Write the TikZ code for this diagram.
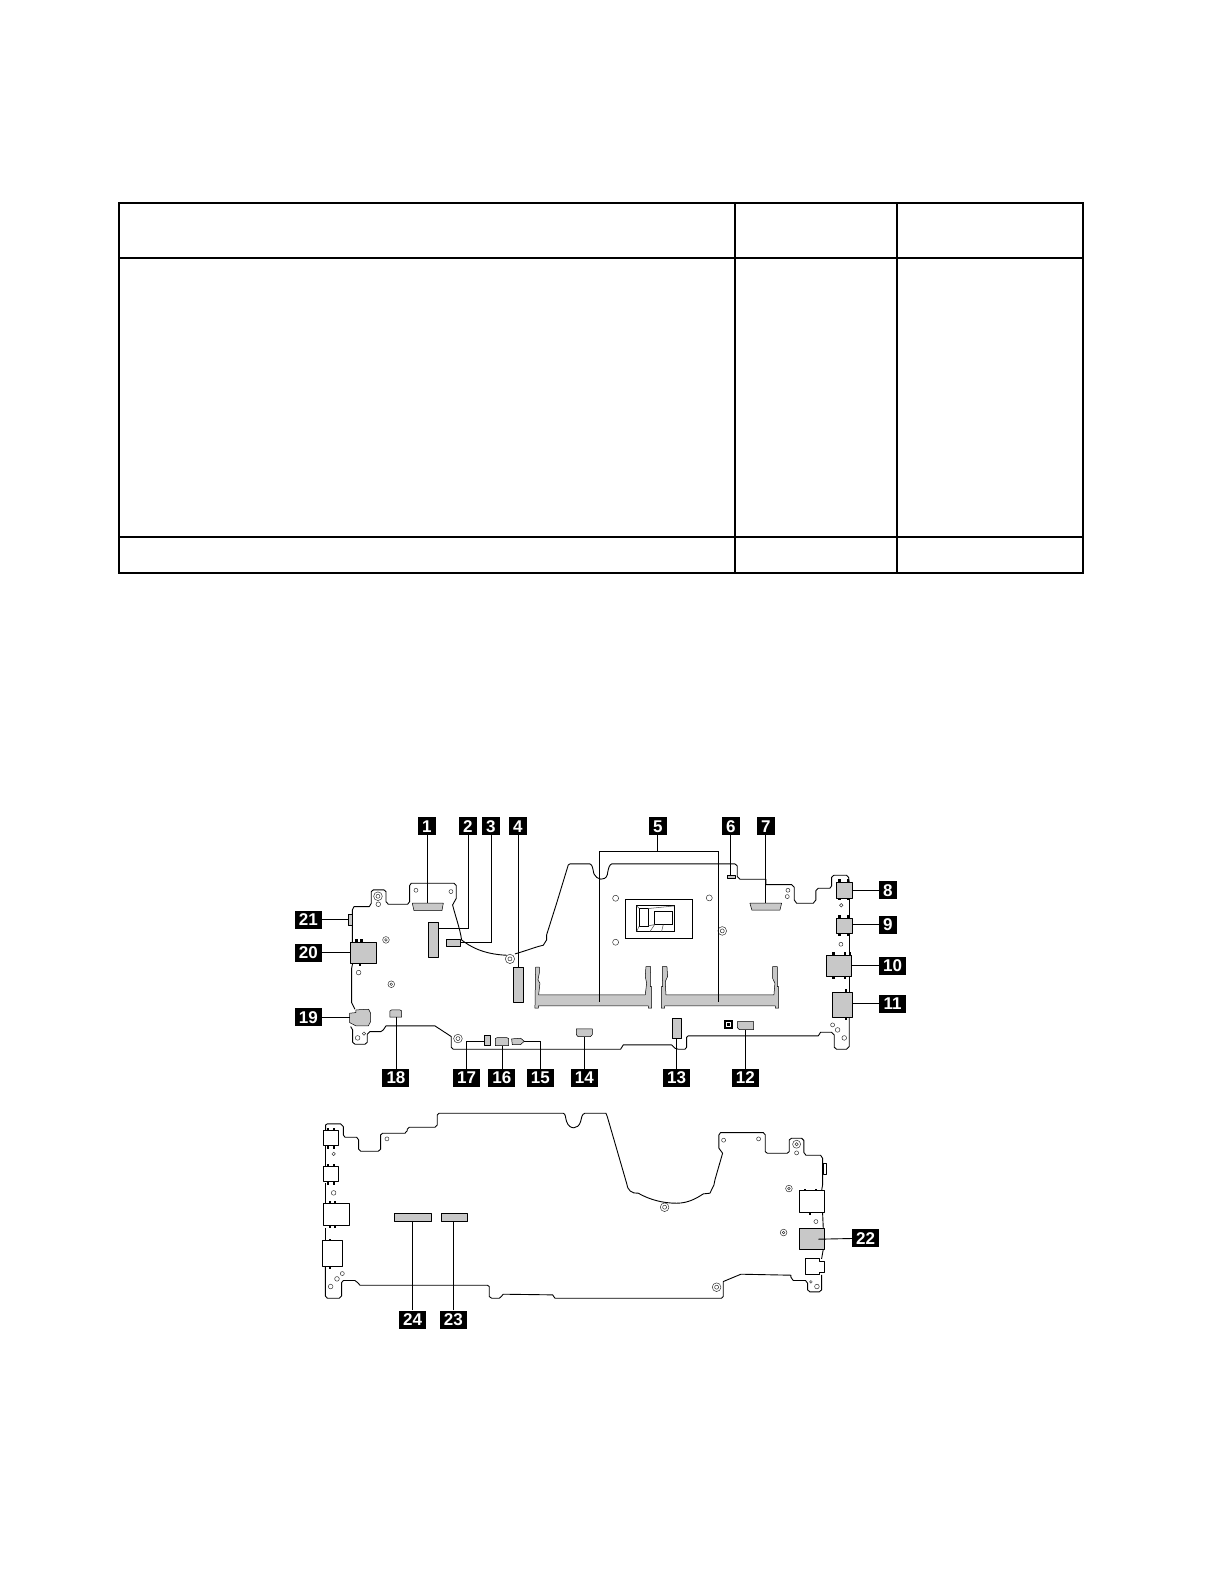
\documentclass[tikz,border=0pt]{standalone}
\usepackage{fontspec}
\setmainfont{Liberation Sans}
\usepackage{xcolor}
\usepackage{tikz}
\definecolor{partgray}{HTML}{C8C8C8}

\begin{document}
\begin{tikzpicture}[x=1pt,y=-1pt,
  table line/.style={line width=2pt},
  outline/.style={line width=0.9pt,line join=round},
  part/.style={draw,line width=0.5pt,fill=partgray,line join=round},
  plug/.style={draw,line width=0.9pt,fill=white,line join=round},
  hole/.style={draw,line width=0.5pt,black!80},
  peg/.style={fill=black},
  lead/.style={line width=0.9pt},
  callout/.style={fill=black,text=white,inner sep=0pt,minimum height=18pt,font=\fontsize{17}{17}\selectfont\bfseries},
  one/.style={callout,minimum width=18pt},
  two/.style={callout,minimum width=27pt}]
\useasboundingbox (0,0) rectangle (1224,1584);

% empty table
\draw[table line] (119,203) rectangle (1083,573);
\draw[table line] (119,258) -- (1083,258) (119,537) -- (1083,537);
\draw[table line] (735,203) -- (735,573) (897,203) -- (897,573);

% upper board
\begin{scope}[x=0.3333pt,y=-0.3333pt,shift={(840,2400)}]
\draw[outline] (217,427) -- (217,330) -- (222,320) -- (268,320) -- (274,310) -- (274,275) -- (280,270) -- (312,270) -- (318,275) -- (318,305) -- (325,313) -- (383,313) -- (389,305) -- (389,257) -- (394,250) -- (522,250) -- (529,257) -- (529,295) -- (518,315) .. controls (525,345) and (540,385) .. (545,420) .. controls (570,440) and (610,463) .. (680,466) (705,462) .. controls (740,452) and (770,440) .. (790,436) -- (800,420) -- (800,405) -- (830,310) -- (865,195) -- (870,192) -- (930,192) .. controls (938,195) and (938,205) .. (942,222) .. controls (950,240) and (975,245) .. (982,225) .. controls (985,205) and (988,195) .. (995,192) -- (1365,192) -- (1372,198) -- (1372,230) -- (1380,238) -- (1458,238) -- (1458,254) -- (1535,254) -- (1543,262) -- (1543,300) -- (1550,310) -- (1600,310) -- (1608,300) -- (1608,272) -- (1615,265) -- (1650,265) -- (1655,258) -- (1655,232) -- (1662,226) -- (1700,226) -- (1706,232) -- (1708,247);
\draw[outline] (1708,294) -- (1708,355) (1708,400) -- (1708,465) (1708,530) -- (1708,577);
\draw[outline] (1708,652) -- (1708,740) -- (1700,748) -- (1670,748) -- (1663,742) -- (1663,705) -- (1655,697) -- (1622,697) -- (1615,708) -- (1225,708) -- (1220,712) -- (1220,742) -- (1215,748) -- (1195,748) -- (1185,745) -- (1175,735) -- (1030,735) -- (1022,748) -- (520,748) -- (514,742) -- (514,710) -- (465,678) -- (318,678) -- (310,690) -- (303,695) -- (270,695) -- (262,703) -- (262,727) -- (255,733) -- (225,733) -- (218,727) -- (218,690) -- (212,680);
\draw[outline] (225,628) -- (215,608) -- (215,505) -- (218,491);

% gray parts
\draw[part] (397,310) -- (490,310) -- (486,332) -- (402,332) -- cycle;
\draw[part] (445,366) rectangle (476,472);
\draw[part] (499,418) rectangle (540,440);
\draw[part] (700,502) rectangle (731,607);
\draw[part] (767,502) -- (778,502) -- (778,520) -- (774,540) -- (780,550) -- (776,585) -- (1096,585) -- (1100,550) -- (1096,530) -- (1098,500) -- (1112,500) -- (1111,560) -- (1115,560) -- (1115,625) -- (1105,625) -- (1105,618) -- (775,618) -- (775,625) -- (765,625) -- cycle;
\draw[part] (1147,500) -- (1161,500) -- (1163,530) -- (1156,545) -- (1158,585) -- (1482,585) -- (1485,550) -- (1478,535) -- (1478,500) -- (1492,500) -- (1492,560) -- (1496,560) -- (1496,625) -- (1486,625) -- (1486,618) -- (1154,618) -- (1154,625) -- (1144,625) -- (1144,560) -- (1148,560) -- cycle;
\draw[part] (1342,226) rectangle (1367,236);
\draw[part] (1410,310) -- (1505,310) -- (1500,331) -- (1416,331) -- cycle;
\draw[part] (1372,665) -- (1421,665) -- (1421,689) -- (1378,689) -- (1372,683) -- cycle;
\draw[part] (1177,656) rectangle (1205,716);
\draw[part] (889,687) -- (937,687) -- (937,704) -- (932,710) -- (894,710) -- (889,704) -- cycle;
\draw[part] (695,717) -- (722,715) -- (733,724) -- (722,734) -- (697,734) -- cycle;
\draw[part] (646,716) -- (652,713) -- (680,713) -- (686,716) -- (686,737) -- (646,737) -- cycle;
\draw[part] (613,705) rectangle (632,737);
\draw[part] (330,633) -- (335,630) -- (360,630) -- (365,633) -- (365,652) -- (330,652) -- cycle;
\draw[part] (209,640) -- (228,638) -- (228,630) -- (266,628) -- (272,640) -- (272,665) -- (265,678) -- (228,678) -- (209,668) -- cycle;
\draw[part] (212,427) rectangle (290,491);
\draw[part] (205,342) rectangle (217,377);
\draw[part] (1669,247) rectangle (1718,294);
\draw[part] (1669,355) rectangle (1718,400);
\draw[part] (1638,465) rectangle (1715,530);
\draw[part] (1658,577) rectangle (1718,652);

% pegs of the side connectors
\foreach \x/\y in {1678/241,1704/241,1678/297,1704/297,1678/349,1704/349,1678/403,1704/403,1660/460,1695/460,1710/460,1660/533,1695/533,1698/572,1698/656,230/421,245/421,240/495}
  \fill[peg] (\x-4,\y-4) rectangle (\x+4,\y+4);

% holes and screws
\foreach \x/\y/\r in {295/313/7,408/271/6,513/275/6,236/518/7,233/714/7,252/701/5,1007/295/9,1288/294/9,1007/427/9,1524/271/6,1522/290/6,1684/316/5,1683/433/6,1658/675/6,1673/690/7,1693/714/7}
  \draw[hole] (\x,\y) circle (\r);
\foreach \x/\y/\r/\s in {294/289/13/6,318/420/10/4,690/477/14/6,334/553/10/4,534/716/13/6,1327/393/13/6}
  \draw[hole] (\x,\y) circle (\r) circle (\s);
\fill (1333,660) rectangle (1358,686);
\draw[white,line width=0.5pt] (1339,666) rectangle (1352,680);

% processor
\draw[line width=1pt] (1036,298) rectangle (1238,415);
\draw[line width=1pt] (1070,318) rectangle (1184,395);
\draw[line width=0.7pt] (1078,326) rectangle (1104,378) (1124,333) rectangle (1176,374);
\draw[black!70,line width=0.5pt] (1070,318) -- (1078,326) (1070,395) -- (1078,378) (1104,326) -- (1184,318) (1104,378) -- (1124,374) (1110,395) -- (1124,374) (1145,395) -- (1150,374);

% labels
\node[one] (lb1) at (441,79) {1};
\node[one] (lb2) at (564,79) {2};
\node[one] (lb3) at (633,79) {3};
\node[one] (lb4) at (714,79) {4};
\node[one] (lb5) at (1134,79) {5};
\node[one] (lb6) at (1353,79) {6};
\node[one] (lb7) at (1458,79) {7};
\node[one] (lb8) at (1824,271) {8};
\node[one] (lb9) at (1824,375) {9};
\node[two] (lb10) at (1838,497) {10};
\node[two] (lb11) at (1838,612) {11};
\node[two] (lb12) at (1396,834) {12};
\node[two] (lb13) at (1190,834) {13};
\node[two] (lb14) at (913,834) {14};
\node[two] (lb15) at (781,834) {15};
\node[two] (lb16) at (666,834) {16};
\node[two] (lb17) at (560,834) {17};
\node[two] (lb18) at (348,834) {18};
\node[two] (lb19) at (85,652) {19};
\node[two] (lb20) at (85,459) {20};
\node[two] (lb21) at (85,360) {21};

\coordinate (p1) at (441,310);
\coordinate (p2) at (476,385);
\coordinate (p3) at (540,427);
\coordinate (p4) at (714,502);
\coordinate (c5) at (1134,154);
\coordinate (p5a) at (958,605);
\coordinate (p5b) at (1317,605);
\coordinate (p6) at (1353,226);
\coordinate (p7) at (1458,310);
\coordinate (p8) at (1718,271);
\coordinate (p9) at (1718,375);
\coordinate (p10) at (1715,497);
\coordinate (p11) at (1718,612);
\coordinate (p12) at (1396,689);
\coordinate (p13) at (1190,716);
\coordinate (p14) at (913,710);
\coordinate (p15) at (733,724);
\coordinate (p16) at (666,737);
\coordinate (p17) at (613,724);
\coordinate (p18) at (348,652);
\coordinate (p19) at (209,652);
\coordinate (p20) at (212,459);
\coordinate (p21) at (205,360);

\path[lead,draw]
(lb1) edge (p1)
(lb4) edge (p4)
(lb5) edge (c5)
(lb6) edge (p6)
(lb7) edge (p7)
(lb8) edge (p8)
(lb9) edge (p9)
(lb10) edge (p10)
(lb11) edge (p11)
(lb12) edge (p12)
(lb13) edge (p13)
(lb14) edge (p14)
(lb16) edge (p16)
(lb18) edge (p18)
(lb19) edge (p19)
(lb20) edge (p20)
(lb21) edge (p21);
\draw[lead] (lb2) |- (p2);
\draw[lead] (lb3) |- (p3);
\draw[lead] (lb15) |- (p15);
\draw[lead] (lb17) |- (p17);
\draw[lead] (p5a) |- (c5) -| (p5b);
\end{scope}

% lower board
\begin{scope}[x=0.3333pt,y=-0.3333pt,shift={(870,3270)}]
\draw[outline] (107,122) -- (107,105) -- (112,102) -- (152,102) -- (160,110) -- (160,135) -- (165,142) -- (200,142) -- (206,150) -- (206,178) -- (212,184) -- (265,184) -- (272,178) -- (272,135) -- (278,130) -- (345,130) -- (352,122) -- (352,118) -- (358,112) -- (435,112) -- (442,105) -- (442,75) -- (447,70) -- (820,70) .. controls (828,72) and (826,85) .. (830,95) .. controls (838,120) and (865,120) .. (872,95) .. controls (875,85) and (875,72) .. (885,70) -- (948,70) -- (952,80) -- (1010,280) .. controls (1012,300) and (1025,312) .. (1045,310) .. controls (1080,330) and (1120,340) .. (1160,340) .. controls (1195,340) and (1220,325) .. (1240,312) -- (1260,310) -- (1272,285) -- (1275,270) -- (1298,190) -- (1287,175) -- (1287,135) -- (1292,128) -- (1420,128) -- (1426,135) -- (1426,185) -- (1432,190) -- (1492,190) -- (1498,185) -- (1498,150) -- (1505,145) -- (1535,145) -- (1542,152) -- (1542,188) -- (1548,196) -- (1592,196) -- (1598,205) -- (1598,285) -- (1595,303);
\draw[outline] (1598,368) -- (1600,414) (1600,479) -- (1598,490) -- (1595,507) (1595,555) -- (1595,600) -- (1588,606) -- (1560,606) -- (1553,600) -- (1553,580) -- (1547,572) -- (1510,572) -- (1503,562) -- (1503,556) -- (1353,553) -- (1300,575) -- (1300,620) -- (1295,625) -- (795,625) -- (788,615) -- (640,613) -- (632,622) -- (628,625) -- (605,625) -- (598,620) -- (598,590) -- (592,586) -- (210,586) -- (203,578) -- (195,572) -- (160,572) -- (155,578) -- (155,618) -- (148,625) -- (112,625) -- (106,618) -- (106,530);
\draw[outline] (106,453) -- (106,415) (106,341) -- (106,278) (106,230) -- (106,167);

\draw[plug] (100,122) rectangle (146,167);
\draw[plug] (100,230) rectangle (146,275);
\draw[plug] (100,341) rectangle (178,407);
\draw[plug] (97,453) rectangle (158,530);
\draw[plug] (1528,303) rectangle (1603,368);
\draw[plug] (1600,222) rectangle (1610,255);
\draw[plug] (1546,507) -- (1588,507) -- (1588,515) -- (1605,515) -- (1605,547) -- (1588,547) -- (1588,555) -- (1546,555) -- cycle;
\foreach \x in {113,133}
  \foreach \y in {117,172,225,280}
    \fill[peg] (\x-3,\y-4) rectangle (\x+3,\y+4);
\foreach \x/\y in {120/337,135/337,120/411,135/411,120/449,120/534,1545/299,1578/299,1560/372}
  \fill[peg] (\x-4,\y-3) rectangle (\x+4,\y+3);

\foreach \x/\y/\r in {291/147/6,131/192/5,131/309/7,157/551/6,141/567/7,122/590/7,1301/151/6,1406/147/6,1520/189/6,1578/395/6,1563/576/4,1581/590/7}
  \draw[hole] (\x,\y) circle (\r);
\foreach \x/\y/\r/\s in {1520/163/12/5,1497/296/10/4,1481/428/10/4,1124/352/13/6,1280/592/13/6}
  \draw[hole] (\x,\y) circle (\r) circle (\s);

\draw[part] (313,371) rectangle (425,395);
\draw[part] (454,371) rectangle (533,395);
\draw[part] (1528,414) -- (1603,414) -- (1603,479) -- (1528,479) -- cycle;

\node[two] (lb22) at (1727,445) {22};
\node[two] (lb23) at (490,689) {23};
\node[two] (lb24) at (368,689) {24};

\coordinate (p22) at (1585,448);
\coordinate (p23) at (490,395);
\coordinate (p24) at (368,395);

\path[lead,draw]
(lb22) edge (p22)
(lb23) edge (p23)
(lb24) edge (p24);
\end{scope}
\end{tikzpicture}
\end{document}
